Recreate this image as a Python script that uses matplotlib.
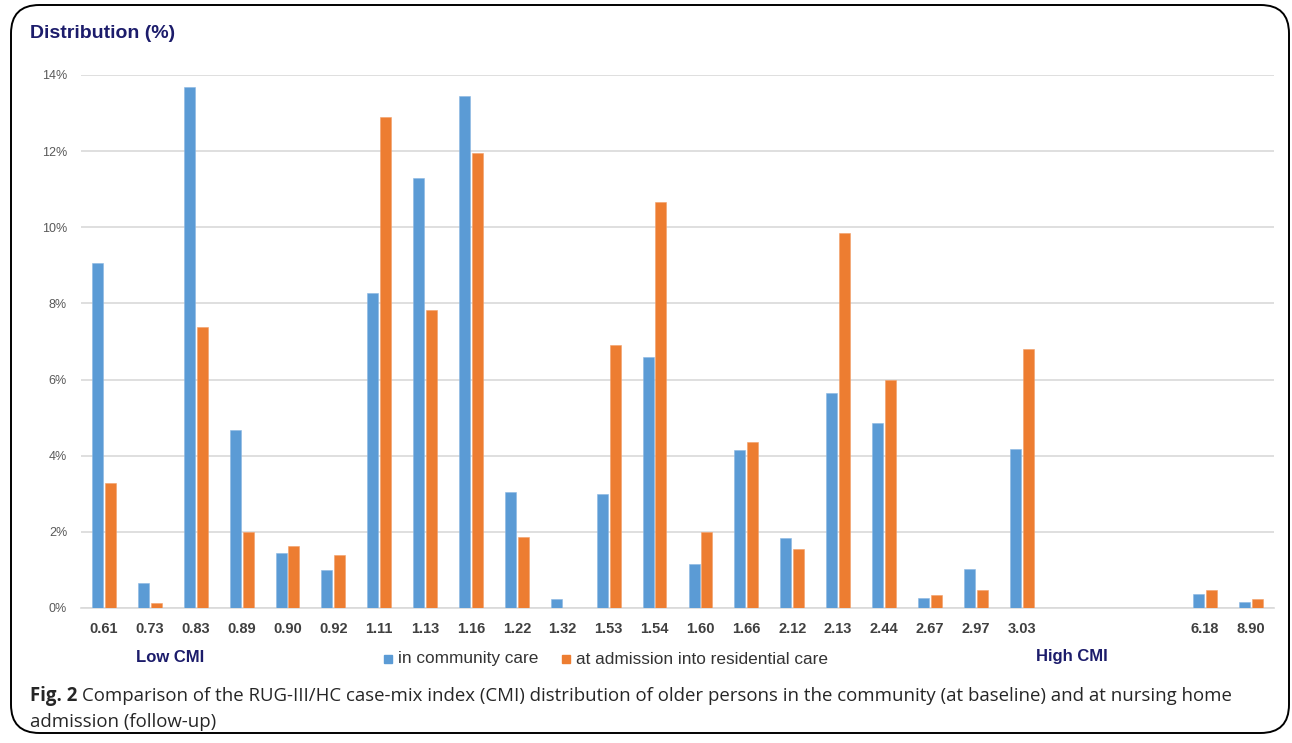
import numpy as np
import matplotlib
matplotlib.use("Agg")
import matplotlib.pyplot as plt
from matplotlib.patches import FancyBboxPatch, Rectangle

# data (percent)
cmi_labels = ["0.61", "0.73", "0.83", "0.89", "0.90", "0.92", "1.11", "1.13", "1.16",
              "1.22", "1.32", "1.53", "1.54", "1.60", "1.66", "2.12", "2.13", "2.44",
              "2.67", "2.97", "3.03", "6.18", "8.90"]
community = [9.06, 0.66, 13.69, 4.68, 1.44, 1.00, 8.27, 11.30, 13.45,
             3.05, 0.24, 2.99, 6.59, 1.16, 4.15, 1.84, 5.65, 4.86,
             0.26, 1.02, 4.18, 0.37, 0.16]
admission = [3.28, 0.13, 7.38, 2.00, 1.63, 1.39, 12.90, 7.83, 11.95,
             1.87, 0.0, 6.91, 10.66, 2.00, 4.36, 1.55, 9.85, 5.99,
             0.34, 0.47, 6.80, 0.47, 0.24]
yticks = [0, 2, 4, 6, 8, 10, 12, 14]

BLUE = "#5b9bd5"
ORANGE = "#ed7d31"
NAVY = "#1c1c6b"
GREY = "#404040"

fig = plt.figure(figsize=(12.92, 7.43), dpi=100)

# outer frame
frame = FancyBboxPatch((11/1292, 10/743), 1278/1292, 728/743,
                       boxstyle="round,pad=0,rounding_size=0.022",
                       transform=fig.transFigure, fill=False,
                       edgecolor="black", linewidth=1.4, mutation_aspect=1292/743)
fig.patches.append(frame)

ax = fig.add_axes([81/1292, 1 - 608/743, (1274 - 81)/1292, (608 - 75)/743])

# 3 empty slots between 3.03 and 6.18
pos = np.arange(len(cmi_labels), dtype=float)
pos[21:] += 3

off = 0.14
w = 0.24
ax.bar(pos - off, community, width=w, color=BLUE, edgecolor="#8bb8e3", linewidth=0.4, zorder=3)
ax.bar(pos + off, admission, width=w, color=ORANGE, edgecolor="#f3a06a", linewidth=0.4, zorder=3)

ax.set_xlim(-0.5, 25.5)
ax.set_ylim(0, 14)
ax.set_yticks(yticks)
ax.set_yticklabels([f"{t}%" for t in yticks], color="#595959", fontsize=9,
                   family="Liberation Sans")
ax.set_xticks(pos)
ax.set_xticklabels(cmi_labels, fontsize=10.5, fontweight="bold", color=GREY,
                   family="Liberation Sans")
ax.tick_params(axis="both", length=0)
ax.tick_params(axis="x", pad=10)
ax.tick_params(axis="y", pad=10)
ax.grid(axis="y", color="#d9d9d9", linewidth=1.2, zorder=0)
for s in ["top", "right", "left"]:
    ax.spines[s].set_visible(False)
ax.spines["bottom"].set_color("#d9d9d9")
ax.spines["bottom"].set_linewidth(1.2)

fig.text(30/1292, 1 - 33/743, "Distribution (%)", fontsize=14, fontweight="bold",
         color=NAVY, family="Liberation Sans", va="center", ha="left")

fig.text(170/1292, 1 - 657/743, "Low CMI", fontsize=12, fontweight="bold",
         color=NAVY, family="Liberation Sans", va="center", ha="center")
fig.text(1072/1292, 1 - 657/743, "High CMI", fontsize=12, fontweight="bold",
         color=NAVY, family="Liberation Sans", va="center", ha="center")

# legend
ly = 1 - 659/743
fig.patches.append(Rectangle((384/1292, ly - 4/743), 8/1292, 8/743,
                             transform=fig.transFigure, color=BLUE))
fig.text(398/1292, ly, "in community care", fontsize=12.4, color="#333333",
         family="Liberation Sans", va="center", ha="left")
fig.patches.append(Rectangle((562/1292, ly - 4/743), 8/1292, 8/743,
                             transform=fig.transFigure, color=ORANGE))
fig.text(576/1292, ly, "at admission into residential care", fontsize=12.4, color="#333333",
         family="Liberation Sans", va="center", ha="left")

# caption
cap_font = ["Open Sans", "DejaVu Sans"]
t1 = fig.text(30/1292, 1 - 696/743, "Fig. 2", fontsize=13.4, fontweight="bold",
              color="#262626", family=cap_font, va="center", ha="left")
fig.canvas.draw()
bb = t1.get_window_extent()
fig.text(bb.x1/1292 + 5/1292, 1 - 696/743,
         "Comparison of the RUG-III/HC case-mix index (CMI) distribution of older persons "
         "in the community (at baseline) and at nursing home",
         fontsize=13.4, color="#262626", family=cap_font, va="center", ha="left")
fig.text(30/1292, 1 - 722/743, "admission (follow-up)", fontsize=13.4, color="#262626",
         family=cap_font, va="center", ha="left")

fig.savefig("out.png", dpi=100)
